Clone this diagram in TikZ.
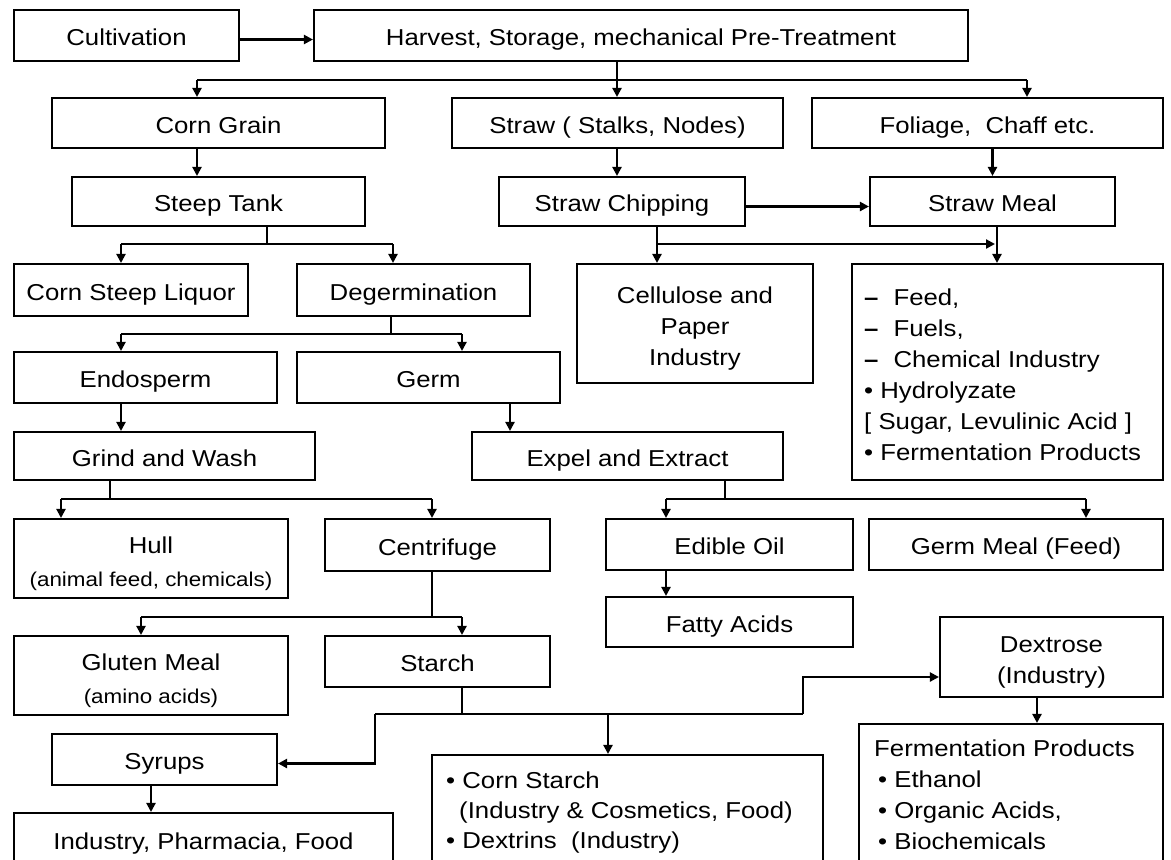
\documentclass[tikz,border=0pt]{standalone}
\usepackage{fontspec}
\setmainfont{Liberation Sans}[FakeStretch=1.12]
\usetikzlibrary{arrows.meta,calc}
\newcommand\mainsize{\fontsize{23}{31}\selectfont}
\newcommand\smallsz{\fontsize{20}{26}\selectfont}
\newcommand\tallfirst{\rule{0pt}{27pt}}
\tikzset{
  box/.style={draw, line width=2.1pt, inner sep=0pt, align=center, font=\mainsize},
  single/.style={text height=20.5pt, text depth=0pt},
  txt/.style={inner sep=0pt, align=left, font=\mainsize},
  arr/.style={line width=2.2pt, -{Triangle[length=9pt,width=9pt]}},
  ln/.style={line width=2.2pt},
}
\newcommand\mkbox[7][single]{\node[box,#1,minimum width={(#5-#3)*1pt},minimum height={(#6-#4)*1pt}] (#2) at ({(#3+#5)/2},{(#4+#6)/2}) {#7};}
\begin{document}
\begin{tikzpicture}[x=1pt,y=-1pt]
\path[use as bounding box] (0,0) rectangle (1171,860);
\fill[white] (0,0) rectangle (1171,860);
\clip (0,0) rectangle (1171,860);
% boxes
\mkbox{cult}{14}{10}{239}{61}{Cultivation}
\mkbox{harv}{314}{10}{968}{61}{Harvest, Storage, mechanical Pre-Treatment}
\mkbox{corn}{52}{98}{385}{148}{Corn Grain}
\mkbox{straw}{452}{98}{783}{148}{Straw ( Stalks, Nodes)}
\mkbox{fol}{812}{98}{1163}{148}{Foliage,\ \ Chaff etc.}
\mkbox{steep}{72}{177}{365}{226}{Steep Tank}
\mkbox{chip}{499}{177}{745}{226}{Straw Chipping}
\mkbox{meal}{870}{177}{1115}{226}{Straw Meal}
\mkbox{csl}{14}{264}{248}{316}{Corn Steep Liquor}
\mkbox{degerm}{297}{264}{530}{316}{Degermination}
\mkbox[]{cell}{577}{264}{813}{383}{\tallfirst Cellulose and\\Paper\\Industry}
\mkbox[]{feed}{852}{264}{1163}{480}{}
\mkbox{endo}{14}{352}{277}{403}{Endosperm}
\mkbox{germ}{297}{352}{560}{403}{Germ}
\mkbox{grind}{14}{432}{315}{480}{Grind and Wash}
\mkbox{expel}{472}{432}{783}{480}{Expel and Extract}
\mkbox[]{hull}{14}{519}{288}{598}{\tallfirst Hull\\[2pt]{\smallsz (animal feed, chemicals)}}
\mkbox{centr}{325}{519}{550}{571}{Centrifuge}
\mkbox{edible}{606}{519}{853}{570}{Edible Oil}
\mkbox{gmeal}{869}{519}{1163}{570}{Germ Meal (Feed)}
\mkbox{fatty}{606}{597}{853}{647}{Fatty Acids}
\mkbox[]{gluten}{14}{636}{288}{715}{\tallfirst Gluten Meal\\[2pt]{\smallsz (amino acids)}}
\mkbox{starch}{325}{636}{550}{687}{Starch}
\mkbox[]{dextrose}{940}{617}{1163}{697}{\tallfirst Dextrose\\(Industry)}
\mkbox{syrups}{52}{734}{277}{785}{Syrups}
\mkbox[]{cstarch}{432}{755}{823}{880}{}
\mkbox[]{ferm}{859}{724}{1163}{880}{}
\mkbox{ipf}{14}{813}{393}{866}{Industry, Pharmacia, Food}
% left-aligned texts
\node[txt, anchor=north west] (feedT) at (864,283.3) {\strut{\bfseries –}\hspace{15pt}Feed,\\
{\bfseries –}\hspace{15pt}Fuels,\\
{\bfseries –}\hspace{15pt}Chemical Industry\\
• Hydrolyzate\\
{[} Sugar, Levulinic Acid {]}\\
• Fermentation Products};
\node[txt, anchor=north west, font=\fontsize{23}{30}\selectfont] (cstarchT) at (446,767) {\strut• Corn Starch\\
\hspace*{13pt}(Industry \& Cosmetics, Food)\\
• Dextrins\ \ (Industry)};
\node[txt, anchor=north west] (fermT) at (874,734.3) {\strut Fermentation Products\\
\hspace*{4pt}• Ethanol\\
\hspace*{4pt}• Organic Acids,\\
\hspace*{4pt}• Biochemicals};
% connectors
\draw[arr] ($(cult.east)+(0,4)$) -- ($(harv.west)+(0,4)$);
\coordinate (b1) at (617,80);
\coordinate (b1L) at (197,80);
\coordinate (b1R) at (1027,80);
\draw[ln] (harv.south -| b1) -- (b1);
\draw[ln] (b1L) -- (b1R);
\draw[arr] (b1L) -- (b1L |- corn.north);
\draw[arr] (b1) -- (b1 |- straw.north);
\draw[arr] (b1R) -- (b1R |- fol.north);
\draw[arr] (corn.south -| b1L) -- (steep.north -| b1L);
\draw[arr] (straw.south -| b1) -- (chip.north -| b1);
\draw[arr] (fol.south -| meal.north) -- (meal.north);
\draw[arr] ($(chip.east)+(0,5)$) -- ($(meal.west)+(0,5)$);
% straw chipping / meal outputs
\coordinate (c1) at (657,244);
\coordinate (c2) at (997,244);
\draw[arr] (c1 |- chip.south) -- (c1 |- cell.north);
\draw[arr] (c1) -- ($(c2)+(-2,0)$);
\draw[arr] (c2 |- meal.south) -- (c2 |- feed.north);
% steep tank
\coordinate (b2) at (267,244);
\coordinate (b2L) at (121,244);
\coordinate (b2R) at (393,244);
\draw[ln] (steep.south -| b2) -- (b2);
\draw[ln] (b2L) -- (b2R);
\draw[arr] (b2L) -- (b2L |- csl.north);
\draw[arr] (b2R) -- (b2R |- degerm.north);
% degermination
\coordinate (b3) at (391,334);
\coordinate (b3L) at (121,334);
\coordinate (b3R) at (462,334);
\draw[ln] (degerm.south -| b3) -- (b3);
\draw[ln] (b3L) -- (b3R);
\draw[arr] (b3L) -- (b3L |- endo.north);
\draw[arr] (b3R) -- (b3R |- germ.north);
\draw[arr] (endo.south -| b3L) -- (grind.north -| b3L);
\coordinate (g1) at (510,420);
\draw[arr] (g1 |- germ.south) -- (g1 |- expel.north);
% grind and wash
\coordinate (b4) at (110,499);
\coordinate (b4L) at (61,499);
\coordinate (b4R) at (432,499);
\draw[ln] (grind.south -| b4) -- (b4);
\draw[ln] (b4L) -- (b4R);
\draw[arr] (b4L) -- (b4L |- hull.north);
\draw[arr] (b4R) -- (b4R |- centr.north);
% expel and extract
\coordinate (b5) at (725,499);
\coordinate (b5L) at (666,499);
\coordinate (b5R) at (1086,499);
\draw[ln] (expel.south -| b5) -- (b5);
\draw[ln] (b5L) -- (b5R);
\draw[arr] (b5L) -- (b5L |- edible.north);
\draw[arr] (b5R) -- (b5R |- gmeal.north);
\draw[arr] (edible.south -| b5L) -- (fatty.north -| b5L);
% centrifuge
\coordinate (b6) at (432,617);
\coordinate (b6L) at (141,617);
\coordinate (b6R) at (462,617);
\draw[ln] (centr.south -| b6) -- (b6);
\draw[ln] (b6L) -- (b6R);
\draw[arr] (b6L) -- (b6L |- gluten.north);
\draw[arr] (b6R) -- (b6R |- starch.north);
% starch
\coordinate (b7) at (462,714);
\coordinate (b7L) at (375,714);
\coordinate (b7M) at (608,714);
\coordinate (b7R) at (803,714);
\draw[ln] (starch.south -| b7) -- (b7);
\draw[ln] (b7L) -- (b7R);
\draw[arr] (b7L) |- ($(syrups.east)+(0,4)$);
\draw[arr] (b7M) -- (b7M |- cstarch.north);
\draw[arr] (b7R) |- ($(dextrose.west)+(0,20)$);
\coordinate (d1) at (1037,710);
\draw[arr] (d1 |- dextrose.south) -- (d1 |- ferm.north);
\coordinate (s1) at (151,800);
\draw[arr] (s1 |- syrups.south) -- (s1 |- ipf.north);
\end{tikzpicture}
\end{document}
